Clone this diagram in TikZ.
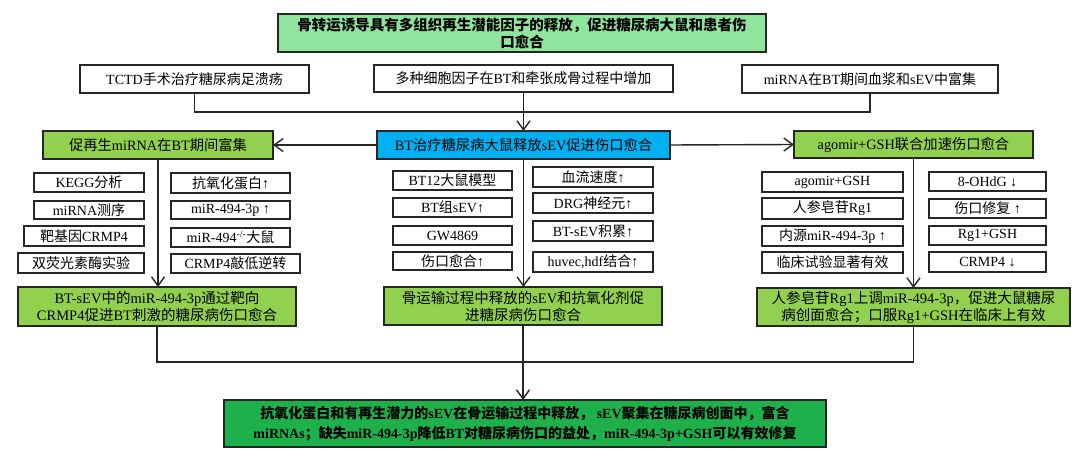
\documentclass[tikz,border=0pt]{standalone}
\usepackage{fontspec}
\setmainfont{Liberation Serif}
\newfontfamily\cjkfam{Noto Sans CJK SC}
\usetikzlibrary{arrows.meta}
\XeTeXinterchartokenstate=1
\newXeTeXintercharclass\CJKcls
\makeatletter
\def\setcjkrange#1#2{\count@=#1\relax\loop\XeTeXcharclass\count@=\CJKcls\relax\ifnum\count@<#2\relax\advance\count@ by 1\relax\repeat}
\makeatother
\setcjkrange{"4E00}{"9FFF}
\setcjkrange{"3000}{"303F}
\setcjkrange{"FF00}{"FFEF}
\XeTeXinterchartoks 0 \CJKcls = {\cjkfam}
\XeTeXinterchartoks 4095 \CJKcls = {\cjkfam}
\XeTeXinterchartoks \CJKcls 0 = {\rmfamily}
\XeTeXinterchartoks \CJKcls 4095 = {\rmfamily}
\definecolor{topgreen}{RGB}{143,228,158}
\definecolor{limegreen}{RGB}{146,208,80}
\definecolor{skyblue}{RGB}{0,176,240}
\definecolor{deepgreen}{RGB}{30,177,75}
\tikzset{
  bx/.style={draw=black!85, line width=1.4pt, inner sep=0pt, outer sep=0pt, align=center},
  topst/.style={bx, fill=topgreen, font=\fontsize{14.5}{17}\selectfont\bfseries},
  rowtwo/.style={bx, fill=white, font=\fontsize{14}{17}\selectfont},
  greenst/.style={bx, fill=limegreen, font=\fontsize{14.3}{17}\selectfont},
  bluest/.style={bx, fill=skyblue, font=\fontsize{14.3}{17}\selectfont},
  subst/.style={bx, line width=1.3pt, fill=white, font=\fontsize{14}{16}\selectfont},
  concl/.style={bx, fill=limegreen, font=\fontsize{14.5}{17}\selectfont},
  finst/.style={bx, fill=deepgreen, font=\fontsize{14}{20}\selectfont\bfseries},
  conn/.style={line width=1.4pt, draw=black!85},
  arr/.style={conn, -{Straight Barb[length=9pt,width=13pt,line width=1.4pt]}}
}
\newcommand\boxnode[7]{\node[#1, minimum width={(#4-#2)*1pt}, minimum height={(#5-#3)*1pt}] (#6) at ({(#2+#4)/2},{(#3+#5)/2}) {#7};}
\begin{document}
\begin{tikzpicture}[x=1pt,y=-1pt]
\useasboundingbox (0,0) rectangle (1080,462);
% top
\boxnode{topst}{278}{14}{766}{52}{top}{骨转运诱导具有多组织再生潜能因子的释放，促进糖尿病大鼠和患者伤\\口愈合}
% row 2
\boxnode{rowtwo}{80}{65}{309}{93}{ra}{TCTD手术治疗糖尿病足溃疡}
\boxnode{rowtwo}{374}{65}{673}{92}{rb}{多种细胞因子在BT和牵张成骨过程中增加}
\boxnode{rowtwo}{742}{65}{998}{93}{rc}{miRNA在BT期间血浆和sEV中富集}
% row 3
\boxnode{greenst}{43}{131}{273}{159}{gl}{促再生miRNA在BT期间富集}
\boxnode{bluest}{377}{131}{670}{159}{bc}{BT治疗糖尿病大鼠释放sEV促进伤口愈合}
\boxnode{greenst}{794}{131}{1033}{158}{gr}{agomir+GSH联合加速伤口愈合}
% left sub boxes
\boxnode{subst}{34}{173}{144}{192}{la1}{KEGG分析}
\boxnode{subst}{34}{201}{144}{219}{la2}{miRNA测序}
\boxnode{subst}{24}{226}{144}{246}{la3}{靶基因CRMP4}
\boxnode{subst}{18}{253}{144}{273}{la4}{双荧光素酶实验}
\boxnode{subst}{171}{173}{290}{193}{lb1}{抗氧化蛋白↑}
\boxnode{subst}{171}{201}{290}{219}{lb2}{miR-494-3p ↑}
\boxnode{subst}{171}{228}{290}{247}{lb3}{miR-494\textsuperscript{-/-}大鼠}
\boxnode{subst}{171}{254}{300}{273}{lb4}{CRMP4敲低逆转}
% middle sub boxes
\boxnode{subst}{393}{171}{512}{190}{ma1}{BT12大鼠模型}
\boxnode{subst}{393}{198}{512}{217}{ma2}{BT组sEV↑}
\boxnode{subst}{393}{226}{512}{245}{ma3}{GW4869}
\boxnode{subst}{393}{252}{512}{270}{ma4}{伤口愈合↑}
\boxnode{subst}{533}{167}{653}{187}{mb1}{血流速度↑}
\boxnode{subst}{533}{193}{653}{213}{mb2}{DRG神经元↑}
\boxnode{subst}{533}{221}{653}{241}{mb3}{BT-sEV积累↑}
\boxnode{subst}{533}{252}{653}{272}{mb4}{huvec,hdf结合↑}
% right sub boxes
\boxnode{subst}{762}{172}{903}{192}{qa1}{agomir+GSH}
\boxnode{subst}{762}{198}{903}{219}{qa2}{人参皂苷Rg1}
\boxnode{subst}{762}{226}{903}{246}{qa3}{内源miR-494-3p ↑}
\boxnode{subst}{762}{252}{903}{273}{qa4}{临床试验显著有效}
\boxnode{subst}{929}{172}{1046}{191}{qb1}{8-OHdG ↓}
\boxnode{subst}{929}{199}{1046}{218}{qb2}{伤口修复 ↑}
\boxnode{subst}{929}{226}{1046}{245}{qb3}{Rg1+GSH}
\boxnode{subst}{929}{252}{1046}{272}{qb4}{CRMP4 ↓}
% conclusions
\boxnode{concl}{18}{287}{296}{326}{cl}{BT-sEV中的miR-494-3p通过靶向\\CRMP4促进BT刺激的糖尿病伤口愈合}
\boxnode{concl}{384}{287}{662}{325}{cm}{骨运输过程中释放的sEV和抗氧化剂促\\进糖尿病伤口愈合}
\boxnode{concl}{757}{288}{1070}{326}{cr}{人参皂苷Rg1上调miR-494-3p，促进大鼠糖尿\\病创面愈合；口服Rg1+GSH在临床上有效}
\boxnode{finst}{224}{400}{826}{447}{fin}{抗氧化蛋白和有再生潜力的sEV在骨运输过程中释放， sEV聚集在糖尿病创面中，富含\\miRNAs；缺失miR-494-3p降低BT对糖尿病伤口的益处，miR-494-3p+GSH可以有效修复}
% connectors
\coordinate (hl) at (0,112);
\coordinate (hb) at (0,362);
\draw[conn] (ra.south) |- (rc.south |- hl) -- (rc.south);
\draw[arr] (rb.south) -- (bc.north);
\draw[arr] (bc.west) -- (gl.east);
\draw[arr] (bc.east) -- (gr.west);
\draw[arr] (gl.south) -- (gl.south |- cl.north);
\draw[arr] (bc.south) -- (bc.south |- cm.north);
\draw[arr] (gr.south) -- (gr.south |- cr.north);
\draw[conn] (cl.south) |- (cr.south |- hb) -- (cr.south);
\draw[arr] (cm.south) -- (cm.south |- fin.north);
\end{tikzpicture}
\end{document}
